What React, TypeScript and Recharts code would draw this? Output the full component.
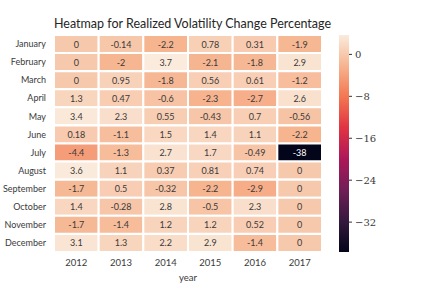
import React from "react";
import { BarChart, Bar, XAxis, YAxis, Cell, LabelList } from "recharts";

const months = [
  "January", "February", "March", "April", "May", "June",
  "July", "August", "September", "October", "November", "December",
];
const years = ["2012", "2013", "2014", "2015", "2016", "2017"];

// one array per year, January..December
const v2012 = [0, 0, 0, 1.3, 3.4, 0.18, -4.4, 3.6, -1.7, 1.4, -1.7, 3.1];
const v2013 = [-0.14, -2, 0.95, 0.47, 2.3, -1.1, -1.3, 1.1, 0.5, -0.28, -1.4, 1.3];
const v2014 = [-2.2, 3.7, -1.8, -0.6, 0.55, 1.5, 2.7, 0.37, -0.32, 2.8, 1.2, 2.2];
const v2015 = [0.78, -2.1, 0.56, -2.3, -0.43, 1.4, 1.7, 0.81, -2.2, -0.5, 1.2, 2.9];
const v2016 = [0.31, -1.8, 0.61, -2.7, 0.7, 1.1, -0.49, 0.74, -2.9, 2.3, 0.52, -1.4];
const v2017 = [-1.9, 2.9, -1.2, 2.6, -0.56, -2.2, -37.7, 0, 0, 0, 0, 0];

const cbTicks = [0, -8, -16, -24, -32];

const columns = [v2012, v2013, v2014, v2015, v2016, v2017];
const vmin = -37.7;
const vmax = 3.7;

// seaborn "rocket"
const rocket: [number, string][] = [
  [0, "#03051a"],
  [1 / 7, "#35193e"],
  [2 / 7, "#701f57"],
  [3 / 7, "#ad1759"],
  [4 / 7, "#e13342"],
  [5 / 7, "#f37651"],
  [6 / 7, "#f6b48f"],
  [1, "#faebdd"],
];

function hex(c: string) {
  return [1, 3, 5].map((i) => parseInt(c.slice(i, i + 2), 16));
}

function colorAt(v: number) {
  const t = Math.min(1, Math.max(0, (v - vmin) / (vmax - vmin)));
  for (let i = 1; i < rocket.length; i++) {
    if (t <= rocket[i][0]) {
      const [t0, c0] = rocket[i - 1];
      const [t1, c1] = rocket[i];
      const f = (t - t0) / (t1 - t0);
      const a = hex(c0);
      const b = hex(c1);
      const m = a.map((x, k) => Math.round(x + (b[k] - x) * f));
      return `rgb(${m[0]},${m[1]},${m[2]})`;
    }
  }
  return rocket[rocket.length - 1][1];
}

const fmt = (v: number) => String(Number(v.toPrecision(2)));

const rows = months.map((m, r) => {
  const row: any = { month: m };
  columns.forEach((col, c) => {
    row[`w${c}`] = 1;
    row[`v${c}`] = col[r];
  });
  return row;
});

const cbData = [{ name: "cb", range: [vmin, vmax] }];

const sans = "Lato, 'DejaVu Sans', sans-serif";
const textCol = "#3a3a3a";

export default function App() {
  return (
    <div style={{ position: "fixed", left: 0, top: 0, width: 432, height: 288, background: "#fff" }}>
      <div
        style={{
          position: "absolute",
          left: 54,
          width: 268,
          top: 17,
          textAlign: "center",
          fontFamily: sans,
          fontSize: 12.5,
          lineHeight: "14px",
          color: "#262626",
          whiteSpace: "nowrap",
        }}
      >
        Heatmap for Realized Volatility Change Percentage
      </div>

      <div style={{ position: "absolute", left: 0, top: 0 }}>
        <BarChart
          width={432}
          height={288}
          data={rows}
          layout="vertical"
          barCategoryGap={0}
          margin={{ top: 35, right: 110, bottom: 0, left: 0 }}
        >
          <XAxis
            type="number"
            domain={[0, 6]}
            ticks={[0.5, 1.5, 2.5, 3.5, 4.5, 5.5]}
            tickFormatter={(v: number) => years[Math.floor(v)]}
            height={36}
            axisLine={false}
            tickLine={false}
            tickMargin={1}
            tick={{ fill: textCol, fontSize: 9.5, fontFamily: sans }}
            label={{
              value: "year",
              position: "insideBottom",
              offset: 7,
              fill: textCol,
              fontSize: 9.5,
              fontFamily: sans,
            }}
          />
          <YAxis
            type="category"
            dataKey="month"
            width={54}
            axisLine={false}
            tickLine={false}
            tickMargin={2}
            interval={0}
            tick={{ fill: textCol, fontSize: 9, fontFamily: sans }}
          />
          {years.map((y, c) => (
            <Bar
              key={y}
              dataKey={`w${c}`}
              stackId="a"
              stroke="#fff"
              strokeWidth={2}
              isAnimationActive={false}
            >
              {rows.map((row, r) => (
                <Cell key={r} fill={colorAt(row[`v${c}`])} />
              ))}
              <LabelList
                dataKey={`v${c}`}
                content={(p: any) => (
                  <text
                    x={p.x + p.width / 2}
                    y={p.y + p.height / 2}
                    textAnchor="middle"
                    dominantBaseline="central"
                    fontSize={9}
                    fontFamily={sans}
                    fill={p.value < -20 ? "#fff" : textCol}
                  >
                    {fmt(p.value)}
                  </text>
                )}
              />
            </Bar>
          ))}
        </BarChart>
      </div>

      <div style={{ position: "absolute", left: 0, top: 0 }}>
        <BarChart
          width={432}
          height={288}
          data={cbData}
          barCategoryGap={0}
          margin={{ top: 35, right: 43, bottom: 36, left: 339 }}
        >
          <defs>
            <linearGradient id="cbgrad" x1="0" y1="0" x2="0" y2="1">
              {[...rocket].reverse().map(([t, c]) => (
                <stop key={t} offset={1 - t} stopColor={c} />
              ))}
            </linearGradient>
          </defs>
          <XAxis dataKey="name" hide />
          <YAxis
            orientation="right"
            type="number"
            domain={[vmin, vmax]}
            ticks={cbTicks}
            allowDataOverflow
            width={40}
            axisLine={false}
            tickSize={3}
            tickMargin={3}
            tickLine={{ stroke: "#333" }}
            tickFormatter={(v: number) => (v === 0 ? "0" : "\u2212" + Math.abs(v))}
            tick={{ fill: textCol, fontSize: 10, fontFamily: "'DejaVu Serif', serif" }}
          />
          <Bar dataKey="range" fill="url(#cbgrad)" isAnimationActive={false} />
        </BarChart>
      </div>
    </div>
  );
}
